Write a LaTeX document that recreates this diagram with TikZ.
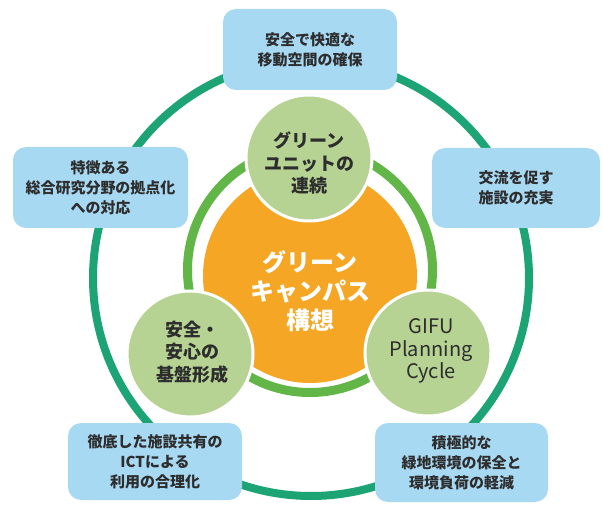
\documentclass[tikz,border=0pt]{standalone}
\usepackage{fontspec}
\setmainfont{Noto Sans CJK JP}
\definecolor{ringteal}{RGB}{28,164,116}
\definecolor{ringgreen}{RGB}{98,182,72}
\definecolor{coreorange}{RGB}{245,166,36}
\definecolor{leafgreen}{RGB}{182,211,147}
\definecolor{boxblue}{RGB}{168,217,243}
\definecolor{textgray}{RGB}{45,45,45}
\begin{document}
\begin{tikzpicture}[x=1pt,y=-1pt,
  infobox/.style={fill=boxblue, rounded corners=13pt, align=center, text=textgray,
    font=\fontsize{15}{20}\selectfont\bfseries, inner sep=0pt},
  leaf/.style={circle, fill=leafgreen, draw=white, line width=3pt, minimum size=126pt, inner sep=0pt},
  leaftext/.style={align=center, text=textgray, font=\fontsize{18}{22.5}\selectfont\bfseries, inner sep=0pt},
  coretext/.style={align=center, text=white, font=\fontsize{24}{29}\selectfont\bfseries, inner sep=0pt}]
\useasboundingbox (0,0) rectangle (603,505);
\fill[white] (0,0) rectangle (603,505);
% outer ring
\coordinate (oc) at (311,278);
\draw[ringteal, line width=8pt] (oc) circle[radius=218pt];
% inner ring
\coordinate (ic) at (310,270);
\draw[ringgreen, line width=9pt] (ic) circle[radius=122.5pt];
% core
\node[circle, fill=coreorange, minimum size=214pt, inner sep=0pt] (core) at (310,276) {};
\node[coretext] (coret) at (310,291) {グリーン\\キャンパス\\構想};
% leaves
\node[leaf] (unit) at (309,158) {};
\node[leaftext] (unitt) at (309,163) {グリーン\\ユニットの\\連続};
\node[leaf] (safe) at (190,354) {};
\node[leaftext] (safet) at (192,352) {安全・\\安心の\\基盤形成};
\node[leaf] (gifu) at (428,353) {};
\node[leaftext, font=\fontsize{20}{22.5}\selectfont] (gifut) at (431,351) {GIFU\\Planning\\Cycle};
% boxes
\node[infobox, minimum width=174pt, minimum height=81pt] (b1) at (310,49.5) {安全で快適な\\移動空間の確保};
\node[infobox, minimum width=175pt, minimum height=81pt] (b2) at (100.5,187.5) {特徴ある\\総合研究分野の拠点化\\への対応};
\node[infobox, minimum width=168pt, minimum height=80pt] (b3) at (516,188) {交流を促す\\施設の充実};
\node[infobox, minimum width=174pt, minimum height=77pt] (b4) at (155,461.5) {徹底した施設共有の\\ICTによる\\利用の合理化};
\node[infobox, minimum width=173pt, minimum height=79pt] (b5) at (461.5,462.5) {積極的な\\緑地環境の保全と\\環境負荷の軽減};
\end{tikzpicture}
\end{document}
